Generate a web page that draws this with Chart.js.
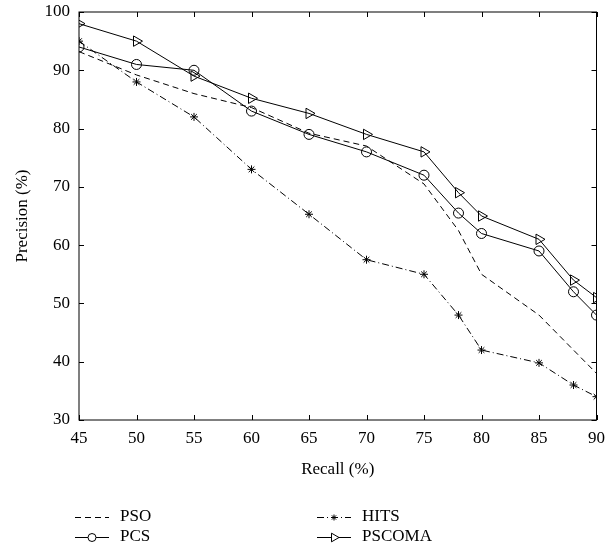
<!DOCTYPE html>
<html>
<head>
<meta charset="utf-8">
<script src="https://cdn.jsdelivr.net/npm/chart.js@4"></script>
<style>
  html, body { margin: 0; padding: 0; background: #fff; }
  #wrap { width: 613px; height: 559px; }
</style>
</head>
<body>
<div id="wrap"><canvas id="precisionRecallChart" width="613" height="559"></canvas></div>
<script>
// Recall (%) on x, Precision (%) on y
const recall = [45, 50, 55, 60, 65, 70, 75, 78, 80, 85, 88, 90];
const psoData = [93.2, 89.2, 86, 83.6, 79.2, 77, 70.5, 62.5, 55, 48, 42, 38];
const pcsData = [94, 91, 90, 83, 79, 76, 72, 65.5, 62, 59, 52, 48];
const hitsData = [95, 88, 82, 73, 65.3, 57.5, 55, 48, 42, 39.8, 36, 34];
const pscomaData = [98, 95, 89, 85.2, 82.6, 79, 76, 69, 65, 61, 54, 51];

const xTicks = [45, 50, 55, 60, 65, 70, 75, 80, 85, 90];
const yTicks = [30, 40, 50, 60, 70, 80, 90, 100];

const FONT = 'Liberation Serif';

function toPoints(ys) {
    return recall.map((x, i) => ({ x: x, y: ys[i] }));
}

// MATLAB-like box with inward tick marks
const boxPlugin = {
    id: 'box',
    afterDatasetsDraw(chart) {
        const { ctx, chartArea: a, scales } = chart;
        ctx.save();
        ctx.strokeStyle = '#000';
        ctx.lineWidth = 1;
        ctx.setLineDash([]);
        ctx.strokeRect(a.left, a.top, a.right - a.left, a.bottom - a.top);
        const len = 5;
        ctx.beginPath();
        xTicks.forEach(v => {
            const px = Math.round(scales.x.getPixelForValue(v)) + 0.5;
            ctx.moveTo(px, a.bottom); ctx.lineTo(px, a.bottom - len);
            ctx.moveTo(px, a.top); ctx.lineTo(px, a.top + len);
        });
        yTicks.forEach(v => {
            const py = Math.round(scales.y.getPixelForValue(v)) + 0.5;
            ctx.moveTo(a.left, py); ctx.lineTo(a.left + len, py);
            ctx.moveTo(a.right, py); ctx.lineTo(a.right - len, py);
        });
        ctx.stroke();
        ctx.restore();
    }
};

// legend in two columns under the x axis title
const legendPlugin = {
    id: 'twoColLegend',
    afterDraw(chart) {
        const { ctx } = chart;
        const spots = [
            { x: 75, y: 517 }, { x: 317, y: 517 },
            { x: 75, y: 537 }, { x: 317, y: 537 }
        ];
        const order = [0, 2, 1, 3]; // PSO, HITS / PCS, PSCOMA
        ctx.save();
        order.forEach((di, k) => {
            const ds = chart.data.datasets[di];
            const s = spots[k];
            ctx.strokeStyle = '#000';
            ctx.lineWidth = 1;
            ctx.setLineDash(ds.borderDash || []);
            ctx.beginPath();
            ctx.moveTo(s.x, s.y + 0.5);
            ctx.lineTo(s.x + 34, s.y + 0.5);
            ctx.stroke();
            ctx.setLineDash([]);
            if (ds.pointRadius > 0) {
                ctx.fillStyle = '#fff';
                ctx.strokeStyle = '#000';
                Chart.helpers.drawPoint(ctx, {
                    pointStyle: ds.pointStyle,
                    rotation: ds.pointRotation || 0,
                    radius: ds.pointRadius - 1,
                    borderWidth: 1
                }, s.x + 17, s.y + 0.5);
            }
            ctx.fillStyle = '#000';
            ctx.font = '17px "' + FONT + '"';
            ctx.textBaseline = 'middle';
            ctx.textAlign = 'left';
            ctx.fillText(ds.label, s.x + 45, s.y);
        });
        ctx.restore();
    }
};

const ctx = document.getElementById('precisionRecallChart').getContext('2d');

new Chart(ctx, {
    type: 'scatter',
    data: {
        datasets: [
            {
                label: 'PSO',
                data: toPoints(psoData),
                showLine: true,
                borderColor: '#000',
                borderWidth: 1,
                borderDash: [6, 4],
                pointRadius: 0,
                pointStyle: 'line'
            },
            {
                label: 'PCS',
                data: toPoints(pcsData),
                showLine: true,
                borderColor: '#000',
                borderWidth: 1,
                pointStyle: 'circle',
                pointRadius: 5,
                pointBorderWidth: 1,
                pointBackgroundColor: 'rgba(0,0,0,0)'
            },
            {
                label: 'HITS',
                data: toPoints(hitsData),
                showLine: true,
                borderColor: '#000',
                borderWidth: 1,
                borderDash: [7, 3, 1, 3],
                pointStyle: 'star',
                pointRadius: 4,
                pointBorderWidth: 1,
                pointBackgroundColor: 'rgba(0,0,0,0)'
            },
            {
                label: 'PSCOMA',
                data: toPoints(pscomaData),
                showLine: true,
                borderColor: '#000',
                borderWidth: 1,
                pointStyle: 'triangle',
                pointRotation: 90,
                pointRadius: 6,
                pointBorderWidth: 1,
                pointBackgroundColor: 'rgba(0,0,0,0)'
            }
        ]
    },
    options: {
        responsive: false,
        animation: false,
        layout: { padding: { left: 4, right: 16, top: 12, bottom: 75 } },
        plugins: {
            legend: { display: false },
            tooltip: { enabled: false }
        },
        scales: {
            x: {
                type: 'linear',
                min: 45,
                max: 90,
                afterBuildTicks: s => { s.ticks = xTicks.map(v => ({ value: v })); },
                afterFit: s => { s.height = 64; },
                grid: { display: false, drawTicks: false },
                border: { display: false },
                ticks: { padding: 8, color: '#000', font: { family: FONT, size: 17 } },
                title: {
                    display: true,
                    text: 'Recall (%)',
                    color: '#000',
                    font: { family: FONT, size: 17 },
                    padding: { top: 0, bottom: 4 }
                }
            },
            y: {
                type: 'linear',
                min: 30,
                max: 100,
                afterBuildTicks: s => { s.ticks = yTicks.map(v => ({ value: v })); },
                afterFit: s => { s.width = 75; s.paddingTop = 0; s.paddingBottom = 0; },
                grid: { display: false, drawTicks: false },
                border: { display: false },
                ticks: { padding: 9, color: '#000', font: { family: FONT, size: 17 } },
                title: {
                    display: true,
                    text: 'Precision (%)',
                    color: '#000',
                    font: { family: FONT, size: 17 },
                    padding: { top: 8, bottom: 0 }
                }
            }
        }
    },
    plugins: [boxPlugin, legendPlugin]
});
</script>
</body>
</html>
